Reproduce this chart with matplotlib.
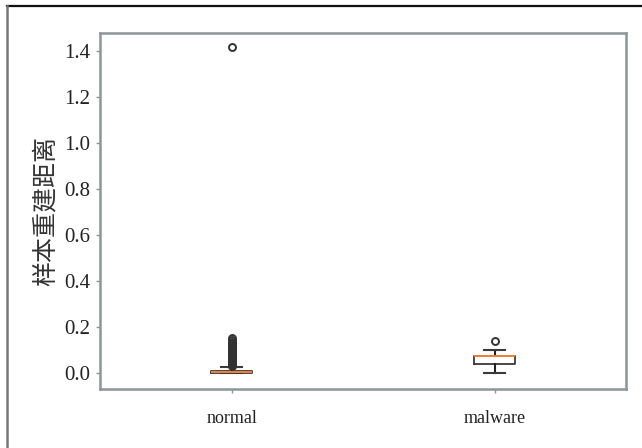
import matplotlib.pyplot as plt
from matplotlib.lines import Line2D

# box statistics
groups = ['normal', 'malware']
q1 = [0.001, 0.038]
med = [0.003, 0.071]
q3 = [0.008, 0.075]
whislo = [0.0, 0.0]
whishi = [0.027, 0.097]
normal_fliers = [0.030, 0.032, 0.034, 0.036, 0.038, 0.040, 0.042, 0.044, 0.046,
                 0.048, 0.050, 0.052, 0.054, 0.056, 0.058, 0.060, 0.062, 0.064,
                 0.066, 0.068, 0.070, 0.072, 0.075, 0.078, 0.081, 0.084, 0.087,
                 0.090, 0.093, 0.096, 0.100, 0.104, 0.108, 0.112, 0.117, 0.122,
                 0.128, 0.135, 0.141, 0.150, 1.415]
malware_fliers = [0.140]
yticks = [0.0, 0.2, 0.4, 0.6, 0.8, 1.0, 1.2, 1.4]

fliers = [normal_fliers, malware_fliers]
stats = []
for i, g in enumerate(groups):
    stats.append({'label': g, 'q1': q1[i], 'med': med[i], 'q3': q3[i],
                  'whislo': whislo[i], 'whishi': whishi[i], 'fliers': fliers[i]})

fig = plt.figure(figsize=(6.42, 4.48), dpi=100)
ax = fig.add_axes([0.156, 0.132, 0.819, 0.795])

ax.bxp(stats, positions=[1, 2], widths=0.155,
       boxprops=dict(color='#3a3a3a', linewidth=1.3),
       whiskerprops=dict(color='#222222', linewidth=1.5),
       capprops=dict(color='#3a3a3a', linewidth=1.5),
       medianprops=dict(color='#f0823c', linewidth=1.4),
       flierprops=dict(marker='o', markersize=5, markerfacecolor='none',
                       markeredgecolor='#333333', markeredgewidth=1.4))

ax.set_xlim(0.5, 2.5)
ax.set_ylim(-0.07, 1.478)
ax.set_yticks(yticks)
ax.set_yticklabels([f'{v:.1f}' for v in yticks])
ax.set_xticks([1, 2])
ax.set_xticklabels(groups)

for lab in ax.get_yticklabels():
    lab.set_family('Liberation Serif')
    lab.set_fontsize(15)
    lab.set_color('#222222')
for lab in ax.get_xticklabels():
    lab.set_family('Liberation Serif')
    lab.set_fontsize(13)
    lab.set_color('#222222')

ax.tick_params(axis='both', length=3, width=1, color='#8c9598', pad=4)
ax.tick_params(axis='x', pad=12)
for s in ax.spines.values():
    s.set_color('#8c9598')
    s.set_linewidth(1.8)

ax.set_ylabel('样本重建距离', family='Noto Sans CJK SC', fontsize=18,
              fontweight='light', color='#333333', labelpad=4)

# outer frame (top and left only)
fig.add_artist(Line2D([0.011, 1.0], [0.986, 0.986], transform=fig.transFigure,
                      color='#111111', linewidth=1.6))
fig.add_artist(Line2D([0.011, 0.011], [0.0, 0.986], transform=fig.transFigure,
                      color='#777777', linewidth=1.8))

fig.savefig('out.png', dpi=100)
